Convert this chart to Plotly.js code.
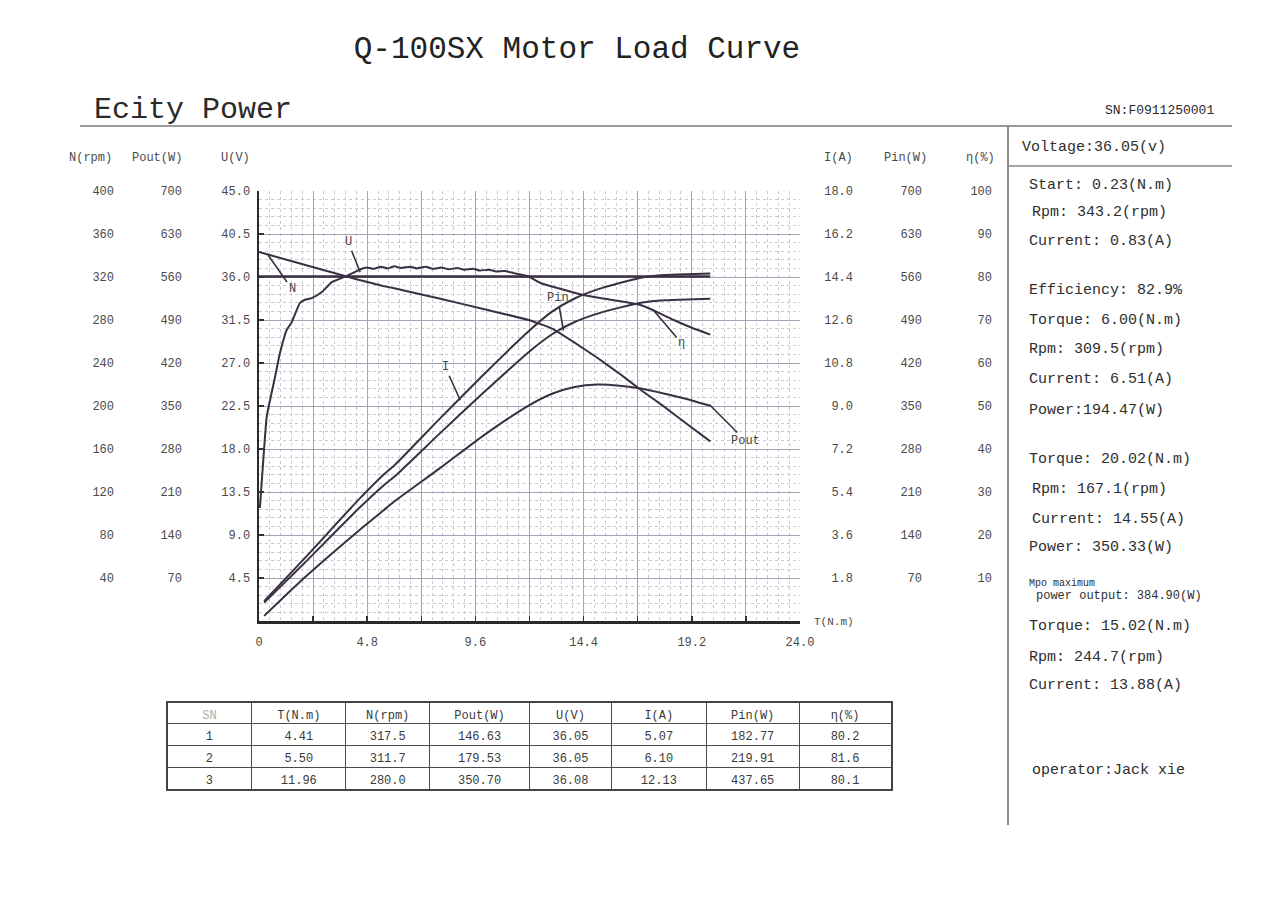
<!DOCTYPE html>
<html>
<head>
<meta charset="utf-8">
<script src="https://cdn.plot.ly/plotly-3.0.1.min.js"></script>
<style>html,body{margin:0;padding:0;background:#fff;}#chart{width:1277px;height:902px;}</style>
</head>
<body>
<div id="chart"></div>
<script>
// ---------- DATA ----------
const T_N   = [0, 4.41, 5.5, 6.0, 8, 10, 11.96, 13, 14, 15.02, 16, 17, 18, 19, 20.02];
const N_rpm = [343.2, 317.5, 311.7, 309.5, 300, 290, 280.0, 272, 259, 244.7, 230, 214, 199, 183, 167.1];

const T_U = [0, 4.41, 5.5, 11.96, 20.02];
const U_V = [36.05, 36.05, 36.05, 36.08, 36.05];

const T_P    = [0.23, 2, 4.41, 5.5, 6.0, 8, 10, 11.96, 13, 14, 15.02, 16, 17, 18, 19, 20.02];
const Pout_W = [8.3, 70, 146.63, 179.53, 194.47, 248, 303, 350.70, 370, 381, 384.9, 383, 378, 370, 361, 350.33];
const I_A    = [0.83, 2.6, 5.07, 6.10, 6.51, 8.45, 10.35, 12.13, 12.95, 13.5, 13.88, 14.15, 14.38, 14.48, 14.52, 14.55];
const Pin_W  = [29.9, 93.7, 182.77, 219.91, 234.7, 304.6, 373.1, 437.65, 466.8, 486.7, 500.4, 510.1, 518.4, 522.0, 523.5, 524.5];

const T_eta = [0.04, 0.19, 0.34, 0.49, 0.71, 0.93, 1.23, 1.45, 1.82, 2.04, 2.34, 2.79, 3.23, 3.68,
               4.2, 4.5, 4.8, 5.1, 5.4, 5.7, 6.0, 6.3, 6.7, 7.0, 7.4, 7.7, 8.1, 8.4, 8.8, 9.1, 9.5, 9.8,
               10.2, 10.5, 10.9, 11.3, 11.96, 12.49, 13.4, 14.4, 15.5, 16.93, 17.6, 18.4, 19.2, 20.02];
const eta_pct = [26.3, 37.4, 47.4, 51.4, 56.7, 62.3, 67.7, 69.5, 74.0, 74.7, 75.1, 76.5, 78.8, 79.8,
               81.0, 81.8, 82.2, 81.9, 82.4, 82.0, 82.5, 82.1, 82.4, 82.0, 82.4, 81.9, 82.2, 81.8, 82.1, 81.7, 81.9, 81.5,
               81.7, 81.3, 81.4, 80.9, 80.1, 78.6, 77.2, 75.8, 74.8, 73.5, 72.0, 70.0, 68.2, 66.6];

// tick labels
const xTickVals = [0, 2.4, 4.8, 7.2, 9.6, 12, 14.4, 16.8, 19.2, 21.6, 24.0];
const xTickText = ['0', '', '4.8', '', '9.6', '', '14.4', '', '19.2', '', '24.0'];
const uTicks    = [4.5, 9.0, 13.5, 18.0, 22.5, 27.0, 31.5, 36.0, 40.5, 45.0];
const nTicks    = [40, 80, 120, 160, 200, 240, 280, 320, 360, 400];
const powTicks  = [70, 140, 210, 280, 350, 420, 490, 560, 630, 700];
const iTicks    = [1.8, 3.6, 5.4, 7.2, 9.0, 10.8, 12.6, 14.4, 16.2, 18.0];
const etaTicks  = [10, 20, 30, 40, 50, 60, 70, 80, 90, 100];

// table
const tableHeader = ['SN', 'T(N.m)', 'N(rpm)', 'Pout(W)', 'U(V)', 'I(A)', 'Pin(W)', 'η(%)'];
const colSN   = ['1', '2', '3'];
const colT    = ['4.41', '5.50', '11.96'];
const colN    = ['317.5', '311.7', '280.0'];
const colPout = ['146.63', '179.53', '350.70'];
const colU    = ['36.05', '36.05', '36.08'];
const colI    = ['5.07', '6.10', '12.13'];
const colPin  = ['182.77', '219.91', '437.65'];
const colEta  = ['80.2', '81.6', '80.1'];

// right panel text
const panelText = [
  'Voltage:36.05(v)',
  'Start: 0.23(N.m)', 'Rpm: 343.2(rpm)', 'Current: 0.83(A)',
  'Efficiency: 82.9%', 'Torque: 6.00(N.m)', 'Rpm: 309.5(rpm)', 'Current: 6.51(A)', 'Power:194.47(W)',
  'Torque: 20.02(N.m)', 'Rpm: 167.1(rpm)', 'Current: 14.55(A)', 'Power: 350.33(W)',
  'Torque: 15.02(N.m)', 'Rpm: 244.7(rpm)', 'Current: 13.88(A)',
  'operator:Jack xie'
];

// ---------- LAYOUT HELPERS ----------
const W = 1277, H = 902;
const px = v => v / W;
const py = v => 1 - v / H;
const MONO = 'Liberation Mono, DejaVu Sans Mono, monospace';
const INK = '#3b2f42';
const TXT = '#3a3a3a';
const yDom = [py(621), py(191)];
const xDom = [px(259), px(800)];

const lineStyle = {color: INK, width: 2};
const traces = [
  {x: T_U, y: U_V, yaxis: 'y', name: 'U', mode: 'lines', line: Object.assign({}, lineStyle, {width: 2.4})},
  {x: T_N, y: N_rpm, yaxis: 'y2', name: 'N', mode: 'lines', line: Object.assign({shape: 'spline', smoothing: 0.4}, lineStyle)},
  {x: T_P, y: Pout_W, yaxis: 'y3', name: 'Pout', mode: 'lines', line: Object.assign({shape: 'spline', smoothing: 0.6}, lineStyle)},
  {x: T_P, y: I_A, yaxis: 'y4', name: 'I', mode: 'lines', line: Object.assign({shape: 'spline', smoothing: 0.6}, lineStyle)},
  {x: T_P, y: Pin_W, yaxis: 'y5', name: 'Pin', mode: 'lines', line: Object.assign({shape: 'spline', smoothing: 0.6}, lineStyle)},
  {x: T_eta, y: eta_pct, yaxis: 'y6', name: 'η', mode: 'lines', line: Object.assign({shape: 'spline', smoothing: 0.5}, lineStyle)},
  {
    type: 'table',
    domain: {x: [px(167), px(892)], y: [py(792), py(702)]},
    columnwidth: [85, 94, 84, 100, 82, 95, 93, 92],
    header: {
      values: tableHeader, height: 21, align: 'center',
      line: {color: '#4a4a4a', width: 1}, fill: {color: '#ffffff'},
      font: {family: MONO, size: 12, color: ['#b0b0b0', TXT, TXT, TXT, TXT, TXT, TXT, TXT]}
    },
    cells: {
      values: [colSN, colT, colN, colPout, colU, colI, colPin, colEta], height: 22, align: 'center',
      line: {color: '#4a4a4a', width: 1}, fill: {color: '#ffffff'},
      font: {family: MONO, size: 12, color: TXT}
    }
  }
];

const tickFont = {family: MONO, size: 12, color: '#4a4a4a'};
const freeAxis = (range, vals, pos, fmt) => ({
  overlaying: 'y', anchor: 'free', side: 'left', position: pos, domain: yDom,
  range: range, tickmode: 'array', tickvals: vals, tickformat: fmt || '',
  showgrid: false, zeroline: false, showline: false, ticks: '', tickfont: tickFont,
  fixedrange: true
});

const annotations = [];
const hdr = (t, x) => annotations.push({text: t, xref: 'paper', yref: 'paper', x: px(x), y: py(158),
  showarrow: false, xanchor: 'center', yanchor: 'middle', font: {family: MONO, size: 12, color: '#4a4a4a'}});
hdr('N(rpm)', 90); hdr('Pout(W)', 157); hdr('U(V)', 235);
hdr('I(A)', 838); hdr('Pin(W)', 905); hdr('η(%)', 980);

annotations.push({text: 'T(N.m)', xref: 'paper', yref: 'paper', x: px(812), y: py(622), showarrow: false,
  xanchor: 'left', yanchor: 'middle', font: {family: MONO, size: 11, color: '#4a4a4a'}});
annotations.push({text: 'Ecity Power', xref: 'paper', yref: 'paper', x: px(92), y: py(110), showarrow: false,
  xanchor: 'left', yanchor: 'middle', font: {family: MONO, size: 30, color: '#2a2a2a'}});
annotations.push({text: 'SN:F0911250001', xref: 'paper', yref: 'paper', x: px(1216), y: py(110), showarrow: false,
  xanchor: 'right', yanchor: 'middle', font: {family: MONO, size: 13, color: '#2a2a2a'}});

// curve labels with pointer lines (in T / U coordinates)
const curveLabel = (t, x, y, ax, ay) => annotations.push({text: t, xref: 'x', yref: 'y', x: x, y: y, ax: ax, ay: ay,
  showarrow: true, arrowhead: 0, arrowwidth: 1.6, arrowcolor: INK, standoff: 0, startstandoff: 0,
  font: {family: MONO, size: 12, color: '#444'}});
curveLabel('N', 0.4, 38.3, 24, 34);
curveLabel('U', 4.49, 36.5, -12, -30);
curveLabel('I', 8.93, 23.1, -15, -33);
curveLabel('Pin', 13.51, 30.4, -6, -33);
curveLabel('η', 17.51, 32.5, 28, 33);
curveLabel('Pout', 20.0, 22.6, 36, 36);

// right panel
const panelY = [147, 186, 213, 241, 290, 320, 350, 379, 410, 459, 489, 519, 547, 626, 657, 685, 770];
const panelX = [1020, 1027, 1030, 1027, 1027, 1027, 1027, 1027, 1027, 1027, 1030, 1030, 1027, 1027, 1027, 1027, 1030];
panelText.forEach((t, i) => annotations.push({text: t, xref: 'paper', yref: 'paper', x: px(panelX[i]), y: py(panelY[i]),
  showarrow: false, xanchor: 'left', yanchor: 'middle', font: {family: MONO, size: 15, color: '#2e2e2e'}}));
annotations.push({text: 'Mpo maximum', xref: 'paper', yref: 'paper', x: px(1027), y: py(583), showarrow: false,
  xanchor: 'left', yanchor: 'middle', font: {family: MONO, size: 10, color: '#2e2e2e'}});
annotations.push({text: 'power output: 384.90(W)', xref: 'paper', yref: 'paper', x: px(1034), y: py(596), showarrow: false,
  xanchor: 'left', yanchor: 'middle', font: {family: MONO, size: 12, color: '#2e2e2e'}});

const shapes = [
  {type: 'line', xref: 'paper', yref: 'paper', x0: px(80), x1: px(1232), y0: py(126), y1: py(126), line: {color: '#777', width: 1.5}},
  {type: 'line', xref: 'paper', yref: 'paper', x0: px(1008), x1: px(1008), y0: py(127), y1: py(825), line: {color: '#666', width: 1.5}},
  {type: 'line', xref: 'paper', yref: 'paper', x0: px(1008), x1: px(1232), y0: py(166), y1: py(166), line: {color: '#888', width: 1.5}},
  {type: 'rect', xref: 'paper', yref: 'paper', x0: px(167), x1: px(892), y0: py(790), y1: py(702), line: {color: '#444', width: 2}, fillcolor: 'rgba(0,0,0,0)'}
];

const layout = {
  width: W, height: H,
  margin: {l: 0, r: 0, t: 0, b: 0},
  paper_bgcolor: '#ffffff', plot_bgcolor: '#ffffff',
  showlegend: false, hovermode: false,
  title: {text: 'Q-100SX Motor Load Curve', x: px(577), y: py(47), xanchor: 'center', yanchor: 'middle',
          xref: 'paper', yref: 'paper', font: {family: MONO, size: 31, color: '#222'}},
  xaxis: {
    domain: xDom, range: [0, 24], anchor: 'y',
    tickmode: 'array', tickvals: xTickVals, ticktext: xTickText,
    ticks: 'inside', ticklen: 5, tickwidth: 1.5, tickcolor: '#333',
    showline: true, linecolor: '#2a2a2a', linewidth: 2.5,
    showgrid: true, gridcolor: '#a3a3b5', gridwidth: 1, zeroline: false,
    minor: {tickmode: 'linear', tick0: 0, dtick: 0.48, showgrid: true, gridcolor: '#c9c9d6', griddash: 'dot', gridwidth: 1, ticks: ''},
    tickfont: tickFont, ticklabelstandoff: 8, fixedrange: true
  },
  yaxis: {
    domain: yDom, range: [0, 45], anchor: 'x', side: 'left',
    tickmode: 'array', tickvals: uTicks, tickformat: '.1f',
    ticks: 'inside', ticklen: 5, tickwidth: 1.5, tickcolor: '#333',
    showline: true, linecolor: '#2a2a2a', linewidth: 2.5,
    showgrid: true, gridcolor: '#a3a3b5', gridwidth: 1, zeroline: false,
    minor: {tickmode: 'linear', tick0: 0, dtick: 0.9, showgrid: true, gridcolor: '#c9c9d6', griddash: 'dot', gridwidth: 1, ticks: ''},
    tickfont: tickFont, ticklabelstandoff: 4, fixedrange: true
  },
  yaxis2: freeAxis([0, 400], nTicks, px(114)),
  yaxis3: freeAxis([0, 700], powTicks, px(182)),
  yaxis4: freeAxis([0, 18], iTicks, px(853), '.1f'),
  yaxis5: freeAxis([0, 700], powTicks, px(922)),
  yaxis6: freeAxis([0, 100], etaTicks, px(992)),
  annotations: annotations,
  shapes: shapes
};

Plotly.newPlot('chart', traces, layout, {displayModeBar: false, staticPlot: true});
</script>
</body>
</html>
